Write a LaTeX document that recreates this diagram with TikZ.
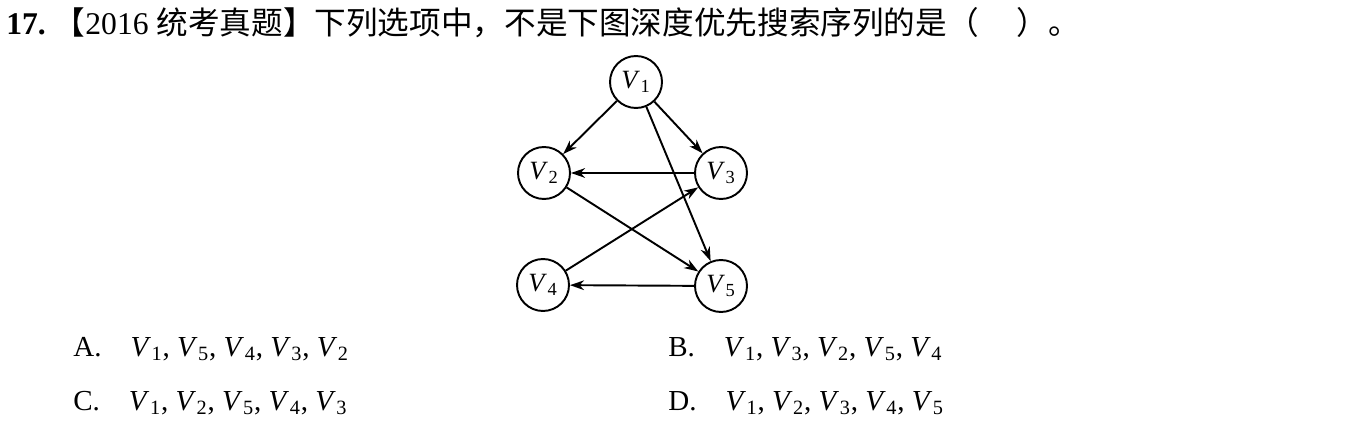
\documentclass[tikz,border=0pt]{standalone}
\usepackage{fontspec}
\setmainfont{Liberation Serif}
\newfontfamily\cjk{Noto Sans CJK SC}
\usetikzlibrary{arrows.meta}
\newcommand\vname[1]{\textit{V}\kern.02em\textsubscript{#1}}
\tikzset{>={Stealth[length=8pt,width=5.5pt,inset=2.5pt]},
  vtx/.style={draw,circle,line width=1.1pt,minimum size=1.04cm,inner sep=0pt,font=\fontsize{15pt}{17pt}\selectfont},
  opt/.style={anchor=base west,inner sep=0pt,font=\fontsize{16.5pt}{19pt}\selectfont},
  head/.style={anchor=base west,inner sep=0pt,font=\fontsize{18pt}{21pt}\selectfont}}

\begin{document}
\begin{tikzpicture}[x=0.02cm,y=-0.02cm]
    \useasboundingbox (0,0) rectangle (1368,422);
    \node[head] (title) at (6,35) {{\bfseries 17.}\ {\cjk【}2016\ {\cjk 统考真题】下列选项中，不是下图深度优先搜索序列的是（\hspace{1.2em}）。}};
    % the graph
    \foreach \n/\x/\y in {1/636/82,2/544/173,3/721/173,4/543/285,5/721/286}{
        \node[vtx] (v\n) at (\x,\y) {\vname{\n}};
    }
    \foreach \a/\b in {1/2,1/3,1/5,3/2,2/5,4/3,5/4}{
        \draw[->,line width=1.1pt] (v\a) -- (v\b);
    }
    % the answers
    \node[opt] (optA) at (73,356) {A.\quad\vname{1}, \vname{5}, \vname{4}, \vname{3}, \vname{2}};
    \node[opt] (optB) at (668,356) {B.\quad\vname{1}, \vname{3}, \vname{2}, \vname{5}, \vname{4}};
    \node[opt] (optC) at (73,410) {C.\quad\vname{1}, \vname{2}, \vname{5}, \vname{4}, \vname{3}};
    \node[opt] (optD) at (668,410) {D.\quad\vname{1}, \vname{2}, \vname{3}, \vname{4}, \vname{5}};
\end{tikzpicture}
\end{document}
